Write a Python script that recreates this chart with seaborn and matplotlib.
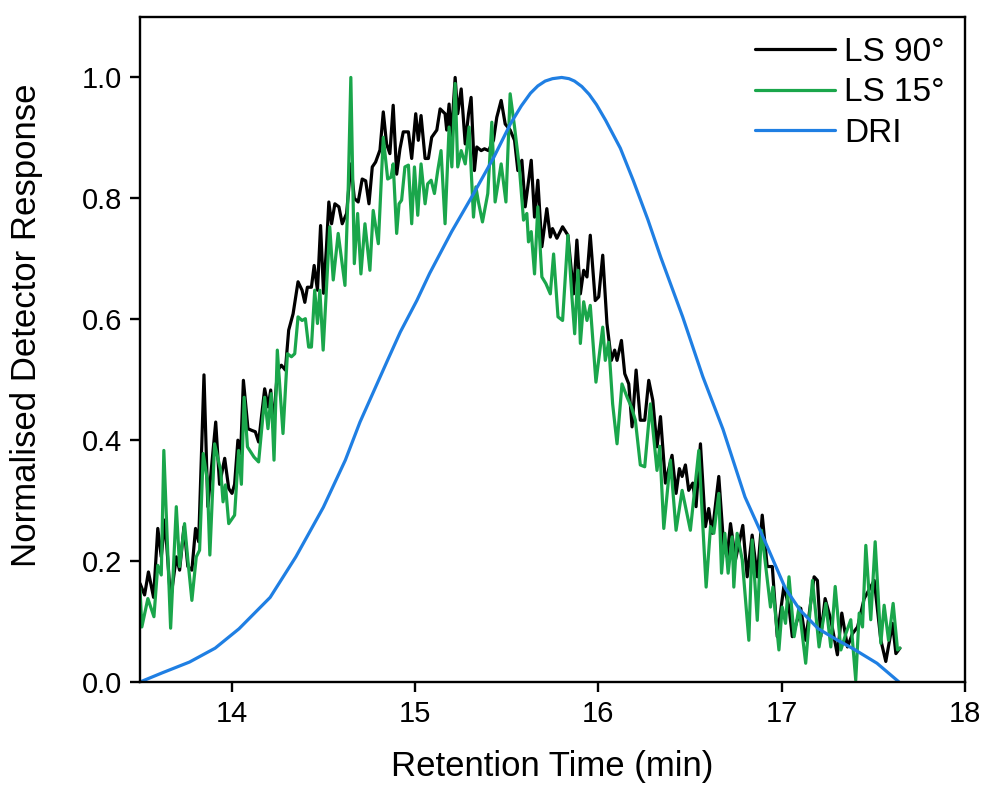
import matplotlib
matplotlib.use("Agg")
import matplotlib.pyplot as plt
import seaborn as sns
import pandas as pd
import numpy as np

# ---------------- data ----------------
ls90_x = [13.500, 13.525, 13.546, 13.574, 13.597, 13.616, 13.636, 13.667, 13.698, 13.716,
          13.740, 13.761, 13.783, 13.803, 13.820, 13.849, 13.870, 13.913, 13.934, 13.962,
          13.984, 14.002, 14.016, 14.034, 14.049, 14.064, 14.089, 14.111, 14.129, 14.147,
          14.180, 14.199, 14.213, 14.226, 14.250, 14.271, 14.293, 14.311, 14.335, 14.362,
          14.384, 14.399, 14.413, 14.435, 14.450, 14.468, 14.485, 14.501, 14.517, 14.530,
          14.545, 14.563, 14.585, 14.603, 14.627, 14.650, 14.669, 14.690, 14.712, 14.731,
          14.749, 14.767, 14.785, 14.809, 14.827, 14.845, 14.863, 14.881, 14.900, 14.918,
          14.936, 14.964, 14.982, 15.004, 15.018, 15.033, 15.055, 15.073, 15.091, 15.119,
          15.137, 15.164, 15.173, 15.186, 15.197, 15.219, 15.233, 15.252, 15.274, 15.292,
          15.306, 15.324, 15.337, 15.361, 15.379, 15.401, 15.428, 15.446, 15.470, 15.492,
          15.519, 15.543, 15.561, 15.583, 15.601, 15.634, 15.652, 15.670, 15.692, 15.719,
          15.738, 15.750, 15.774, 15.805, 15.834, 15.865, 15.883, 15.902, 15.920, 15.938,
          15.956, 15.983, 16.002, 16.024, 16.047, 16.071, 16.089, 16.102, 16.126, 16.144,
          16.166, 16.184, 16.206, 16.229, 16.253, 16.275, 16.297, 16.320, 16.339, 16.366,
          16.402, 16.424, 16.442, 16.457, 16.475, 16.493, 16.515, 16.533, 16.557, 16.584,
          16.602, 16.621, 16.657, 16.684, 16.703, 16.721, 16.748, 16.788, 16.812, 16.839,
          16.867, 16.894, 16.921, 16.949, 16.976, 17.012, 17.040, 17.058, 17.104, 17.131,
          17.177, 17.195, 17.213, 17.237, 17.268, 17.304, 17.328, 17.359, 17.386, 17.414,
          17.450, 17.505, 17.541, 17.568, 17.605, 17.623, 17.645]
ls90_y = [0.163, 0.144, 0.182, 0.140, 0.254, 0.207, 0.268, 0.136, 0.207, 0.185,
          0.257, 0.191, 0.185, 0.254, 0.232, 0.508, 0.290, 0.430, 0.327, 0.370,
          0.320, 0.312, 0.327, 0.400, 0.378, 0.499, 0.419, 0.416, 0.414, 0.397,
          0.485, 0.455, 0.483, 0.422, 0.515, 0.524, 0.516, 0.582, 0.609, 0.662,
          0.648, 0.628, 0.653, 0.653, 0.689, 0.648, 0.755, 0.643, 0.719, 0.794,
          0.758, 0.791, 0.786, 0.758, 0.775, 0.857, 0.800, 0.794, 0.832, 0.829,
          0.791, 0.852, 0.860, 0.880, 0.943, 0.890, 0.874, 0.954, 0.840, 0.882,
          0.910, 0.910, 0.866, 0.940, 0.896, 0.937, 0.866, 0.866, 0.901, 0.913,
          0.948, 0.940, 0.913, 0.956, 0.896, 1.000, 0.940, 0.981, 0.890, 0.940,
          0.967, 0.846, 0.885, 0.879, 0.882, 0.879, 0.896, 0.934, 0.962, 0.923,
          0.913, 0.896, 0.846, 0.863, 0.786, 0.863, 0.769, 0.830, 0.720, 0.783,
          0.736, 0.750, 0.734, 0.753, 0.739, 0.642, 0.731, 0.642, 0.681, 0.670,
          0.739, 0.631, 0.637, 0.706, 0.593, 0.532, 0.549, 0.532, 0.565, 0.510,
          0.493, 0.422, 0.516, 0.433, 0.433, 0.499, 0.466, 0.389, 0.439, 0.329,
          0.375, 0.312, 0.353, 0.340, 0.359, 0.317, 0.329, 0.290, 0.394, 0.257,
          0.287, 0.246, 0.340, 0.224, 0.207, 0.262, 0.202, 0.259, 0.174, 0.243,
          0.174, 0.276, 0.191, 0.191, 0.075, 0.158, 0.124, 0.075, 0.122, 0.069,
          0.174, 0.168, 0.075, 0.138, 0.103, 0.045, 0.114, 0.058, 0.080, 0.091,
          0.138, 0.168, 0.069, 0.034, 0.097, 0.047, 0.056]

ls15_x = [13.500, 13.510, 13.543, 13.576, 13.597, 13.616, 13.630, 13.667, 13.698, 13.716,
          13.743, 13.761, 13.783, 13.807, 13.825, 13.845, 13.867, 13.881, 13.907, 13.940,
          13.953, 13.966, 13.984, 14.016, 14.038, 14.053, 14.068, 14.086, 14.122, 14.147,
          14.180, 14.198, 14.216, 14.231, 14.249, 14.280, 14.304, 14.326, 14.344, 14.362,
          14.384, 14.402, 14.420, 14.435, 14.453, 14.468, 14.481, 14.499, 14.535, 14.554,
          14.581, 14.618, 14.636, 14.650, 14.669, 14.687, 14.705, 14.727, 14.754, 14.772,
          14.800, 14.827, 14.851, 14.869, 14.881, 14.900, 14.913, 14.927, 14.945, 14.964,
          14.982, 14.997, 15.015, 15.033, 15.055, 15.069, 15.088, 15.106, 15.124, 15.142,
          15.164, 15.186, 15.201, 15.219, 15.233, 15.252, 15.274, 15.295, 15.319, 15.332,
          15.346, 15.368, 15.397, 15.419, 15.437, 15.470, 15.496, 15.519, 15.543, 15.569,
          15.592, 15.610, 15.619, 15.634, 15.652, 15.670, 15.692, 15.714, 15.738, 15.756,
          15.780, 15.805, 15.834, 15.856, 15.871, 15.889, 15.902, 15.920, 15.938, 15.956,
          15.987, 16.024, 16.038, 16.056, 16.078, 16.102, 16.129, 16.157, 16.180, 16.202,
          16.229, 16.253, 16.284, 16.320, 16.335, 16.357, 16.393, 16.424, 16.457, 16.502,
          16.548, 16.588, 16.612, 16.630, 16.657, 16.672, 16.690, 16.708, 16.730, 16.739,
          16.757, 16.785, 16.821, 16.839, 16.867, 16.890, 16.939, 16.952, 16.985, 17.003,
          17.021, 17.040, 17.068, 17.095, 17.131, 17.168, 17.204, 17.241, 17.268, 17.292,
          17.323, 17.350, 17.377, 17.404, 17.423, 17.441, 17.459, 17.486, 17.510, 17.541,
          17.559, 17.583, 17.608, 17.632, 17.645]
ls15_y = [0.155, 0.091, 0.138, 0.108, 0.193, 0.177, 0.383, 0.089, 0.290, 0.191,
          0.262, 0.202, 0.135, 0.207, 0.218, 0.378, 0.334, 0.210, 0.394, 0.350,
          0.298, 0.326, 0.262, 0.276, 0.383, 0.327, 0.471, 0.389, 0.372, 0.364,
          0.471, 0.419, 0.477, 0.367, 0.549, 0.411, 0.543, 0.538, 0.543, 0.604,
          0.598, 0.601, 0.554, 0.554, 0.648, 0.593, 0.648, 0.549, 0.753, 0.665,
          0.742, 0.656, 0.819, 1.000, 0.692, 0.775, 0.675, 0.758, 0.681, 0.780,
          0.725, 0.901, 0.832, 0.835, 0.857, 0.742, 0.791, 0.797, 0.852, 0.855,
          0.758, 0.852, 0.772, 0.857, 0.791, 0.824, 0.830, 0.808, 0.846, 0.879,
          0.758, 0.918, 0.852, 0.990, 0.852, 0.879, 0.857, 0.918, 0.769, 0.819,
          0.794, 0.761, 0.808, 0.926, 0.794, 0.857, 0.794, 0.973, 0.918, 0.852,
          0.764, 0.775, 0.728, 0.745, 0.675, 0.786, 0.670, 0.659, 0.642, 0.708,
          0.604, 0.598, 0.739, 0.637, 0.576, 0.681, 0.560, 0.629, 0.598, 0.623,
          0.496, 0.587, 0.532, 0.562, 0.460, 0.394, 0.493, 0.471, 0.455, 0.433,
          0.359, 0.356, 0.460, 0.350, 0.390, 0.254, 0.367, 0.251, 0.317, 0.251,
          0.383, 0.157, 0.257, 0.246, 0.312, 0.180, 0.246, 0.180, 0.240, 0.157,
          0.246, 0.202, 0.069, 0.235, 0.102, 0.251, 0.124, 0.157, 0.053, 0.124,
          0.097, 0.174, 0.075, 0.124, 0.031, 0.168, 0.058, 0.130, 0.058, 0.158,
          0.053, 0.080, 0.103, 0.003, 0.114, 0.091, 0.226, 0.103, 0.232, 0.064,
          0.127, 0.069, 0.130, 0.053, 0.056]

dri_x = [13.50, 13.62, 13.77, 13.91, 14.04, 14.21, 14.35, 14.50, 14.62, 14.70,
         14.85, 14.92, 15.01, 15.08, 15.20, 15.32, 15.43, 15.52, 15.58, 15.63,
         15.67, 15.71, 15.75, 15.80, 15.84, 15.87, 15.91, 15.95, 15.99, 16.04,
         16.12, 16.19, 16.27, 16.34, 16.46, 16.57, 16.68, 16.80, 16.91, 17.02,
         17.10, 17.20, 17.30, 17.39, 17.52, 17.64]
dri_y = [0.000, 0.015, 0.033, 0.056, 0.088, 0.140, 0.207, 0.289, 0.367, 0.430,
         0.532, 0.579, 0.631, 0.676, 0.745, 0.808, 0.868, 0.923, 0.953, 0.974,
         0.986, 0.994, 0.998, 1.000, 0.998, 0.994, 0.985, 0.972, 0.955, 0.929,
         0.883, 0.830, 0.765, 0.703, 0.604, 0.505, 0.418, 0.306, 0.232, 0.155,
         0.119, 0.088, 0.070, 0.055, 0.031, 0.000]

series_names = ["LS 90\u00b0", "LS 15\u00b0", "DRI"]
series_colors = ["#000000", "#1aa64b", "#1f7fe3"]
x_ticks = [14, 15, 16, 17, 18]
y_ticks = [0.0, 0.2, 0.4, 0.6, 0.8, 1.0]

# ---------------- plot ----------------
sns.set_style("ticks")
plt.rcParams["font.family"] = ["Liberation Sans", "DejaVu Sans"]
plt.rcParams["text.color"] = "black"
plt.rcParams["axes.labelcolor"] = "black"

fig = plt.figure(figsize=(9.87, 7.88), dpi=100)
ax = fig.add_axes([140/987, 106/788, 825/987, 665/788])

frames = [
    pd.DataFrame({"t": ls90_x, "r": ls90_y}),
    pd.DataFrame({"t": ls15_x, "r": ls15_y}),
    pd.DataFrame({"t": dri_x, "r": dri_y}),
]
for df, name, col in zip(frames, series_names, series_colors):
    sns.lineplot(data=df, x="t", y="r", ax=ax, color=col, label=name,
                 linewidth=2.3, sort=False, estimator=None)

ax.set_xlim(13.5, 18)
ax.set_ylim(0, 1.1)
ax.set_xticks(x_ticks)
ax.set_yticks(y_ticks)
ax.set_yticklabels([f"{v:.1f}" for v in y_ticks])
ax.set_xticklabels([str(v) for v in x_ticks])

for s in ax.spines.values():
    s.set_linewidth(1.7)
    s.set_color("black")
ax.tick_params(axis="both", direction="out", length=7, width=1.7,
               labelsize=21, colors="black", labelcolor="black", pad=6)

ax.set_xlabel("Retention Time (min)", fontsize=25, labelpad=16, color="black")
ax.set_ylabel("Normalised Detector Response", fontsize=25, color="black")
ax.yaxis.set_label_coords(-0.118, 0.537)

leg = ax.legend(loc="upper right", frameon=False, fontsize=24,
                handlelength=2.4, handletextpad=0.3, labelspacing=0.28,
                borderaxespad=0.2)
for line in leg.get_lines():
    line.set_linewidth(2.3)
for t in leg.get_texts():
    t.set_color("black")

fig.savefig("out.png", dpi=100)
